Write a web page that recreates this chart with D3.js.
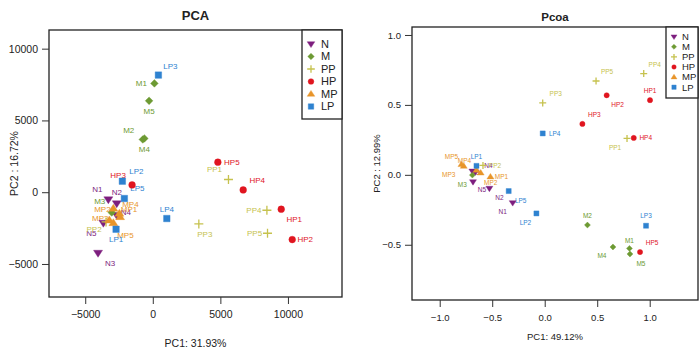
<!DOCTYPE html>
<html>
<head>
<meta charset="utf-8">
<title>PCA / Pcoa</title>
<script src="https://d3js.org/d3.v7.min.js"></script>
<style>
  body { margin: 0; background: #fff; }
  text { font-family: "Liberation Sans", Arial, sans-serif; }
</style>
</head>
<body>
<div id="chart"></div>
<script>
// groups and their legend order
var groups = ["N", "M", "PP", "HP", "MP", "LP"];
var groupColors = ["#7d1e7e", "#6d9a33", "#c6c24e", "#e0151f", "#e8952a", "#2e82d0"];

// PCA scores
var pcaSamples = ["N1","N2","N3","N4","N5","M1","M2","M3","M4","M5","PP1","PP2","PP3","PP4","PP5",
                  "HP1","HP2","HP3","HP4","HP5","MP1","MP2","MP3","MP4","MP5","LP1","LP2","LP3","LP4","LP5"];
var pcaX = [-3289,-2667,-4052,-2667,-3659, 119,-741,-3037,-622,-274, 5600,-3459,3407,8444,8489,
            9503,10318,-1533,6689,4815, -2422,-2918,-3215,-2474,-2918, -2718,-2252,415,1037,-2104];
var pcaY = [-509,-788,-4233,-1604,-2141, 7581,3675,-1416,3745,6367, 886,-2071,-2211,-1255,-2859,
            -1186,-3299,509,160,2092, -1723,-1137,-1953,-1485,-2141, -2580,767,8160,-1834,-439];
var pcaXTicks = [-5000, 0, 5000, 10000];
var pcaYTicks = [-5000, 0, 5000, 10000];

// PCoA scores
var pcoaSamples = pcaSamples;
var pcoaX = [-0.305,-0.527,-0.66,-0.689,-0.683, 0.807,0.407,-0.689,0.650,0.812, 0.784,-0.588,-0.019,0.943,0.489,
             1.003,0.590,0.359,0.848,0.908, -0.517,-0.610,-0.771,-0.650,-0.793, -0.650,-0.079,0.965,-0.019,-0.343];
var pcoaY = [-0.200,-0.097,0.020,0.026,-0.050, -0.526,-0.359,-0.002,-0.516,-0.566, 0.260,0.067,0.514,0.724,0.671,
             0.534,0.569,0.364,0.264,-0.552, -0.014,0.014,0.062,0.034,0.074, 0.064,-0.276,-0.364,0.296,-0.116];
var pcoaXTicks = [-1.0, -0.5, 0.0, 0.5, 1.0];
var pcoaYTicks = [-0.5, 0.0, 0.5, 1.0];

// label nudges (pixels) so text sits beside its marker
var pcaNudge = {
  N1:[-11,-10], N2:[0,-11], N3:[12,10], N4:[9,-3], N5:[-12,10],
  M1:[-13,0], M2:[-14,-9], M3:[-12,-11], M4:[0,11], M5:[0,10],
  PP1:[-14,-10], PP2:[-12,7], PP3:[6,10], PP4:[-13,0], PP5:[-13,0],
  HP1:[13,10], HP2:[13,0], HP3:[-14,-10], HP4:[14,-10], HP5:[14,0],
  MP1:[9,-8], MP2:[-11,1], MP3:[-9,-2], MP4:[11,-9], MP5:[12,12],
  LP1:[0,10], LP2:[14,-10], LP3:[12,-9], LP4:[0,-9], LP5:[13,-10]
};
var pcoaNudge = {
  N1:[-10,9], N2:[10,9], N3:[0,1], N4:[16,-5], N5:[9,8],
  M1:[0,-8], M2:[0,-9], M3:[-10,10], M4:[-11,9], M5:[11,10],
  PP1:[-12,9], PP2:[12,0], PP3:[13,-9], PP4:[11,-9], PP5:[11,-9],
  HP1:[0,-9], HP2:[11,9], HP3:[12,-9], HP4:[12,0], HP5:[12,-9],
  MP1:[11,0], MP2:[10,10], MP3:[-15,9], MP4:[-12,-9], MP5:[-10,-8],
  LP1:[0,-9], LP2:[-11,9], LP3:[0,-10], LP4:[12,0], LP5:[12,10]
};

var W = 700, H = 357;
var svg = d3.select("#chart").append("svg")
    .attr("width", W)
    .attr("height", H);

function groupOf(name) { return name.replace(/[0-9]+$/, ""); }
function colorOf(g) { return groupColors[groups.indexOf(g)]; }

// marker path for a group, r = half size
function markerPath(g, r) {
  if (g === "N") return "M" + (-r) + "," + (-r * 0.6) + "L" + r + "," + (-r * 0.6) + "L0," + (r * 0.95) + "Z";
  if (g === "MP") return "M" + (-r) + "," + (r * 0.6) + "L" + r + "," + (r * 0.6) + "L0," + (-r * 0.95) + "Z";
  if (g === "M") return "M0," + (-r * 0.85) + "L" + (r * 0.85) + ",0L0," + (r * 0.85) + "L" + (-r * 0.85) + ",0Z";
  if (g === "PP") return "M" + (-r) + ",0H" + r + "M0," + (-r) + "V" + r;
  if (g === "LP") { var s = r * 0.72; return "M" + (-s) + "," + (-s) + "H" + s + "V" + s + "H" + (-s) + "Z"; }
  // HP circle
  var c = r * 0.75;
  return "M" + c + ",0A" + c + "," + c + " 0 1,1 " + (-c) + ",0A" + c + "," + c + " 0 1,1 " + c + ",0Z";
}

function drawMarker(sel, g, r) {
  sel.append("path")
    .attr("d", markerPath(g, r))
    .attr("fill", g === "PP" ? "none" : colorOf(g))
    .attr("stroke", colorOf(g))
    .attr("stroke-width", g === "PP" ? 1.3 : 0.4);
}

function drawPanel(o) {
  var x = d3.scaleLinear().domain(o.xDomain).range([o.left, o.right]);
  var y = d3.scaleLinear().domain(o.yDomain).range([o.bottom, o.top]);
  var g = svg.append("g");

  // frame
  g.append("rect")
    .attr("x", o.left).attr("y", o.top)
    .attr("width", o.right - o.left).attr("height", o.bottom - o.top)
    .attr("fill", "none").attr("stroke", "#222").attr("stroke-width", 1.3);

  // axes
  var xAxis = g.append("g")
    .attr("transform", "translate(0," + o.bottom + ")")
    .call(d3.axisBottom(x).tickValues(o.xTicks).tickSize(7).tickPadding(o.tickPad)
      .tickFormat(o.tickFormat));
  var yAxis = g.append("g")
    .attr("transform", "translate(" + o.left + ",0)")
    .call(d3.axisLeft(y).tickValues(o.yTicks).tickSize(7).tickPadding(4)
      .tickFormat(o.tickFormat));
  [xAxis, yAxis].forEach(function (a) {
    a.select(".domain").remove();
    a.selectAll("line").attr("stroke", "#333");
    a.selectAll("text").style("font-size", o.tickSize + "px").attr("fill", "#222")
      .style("font-family", "'Liberation Sans', Arial, sans-serif");
  });

  // title & axis labels
  g.append("text")
    .attr("x", (o.left + o.right) / 2 + o.titleDx).attr("y", o.titleY)
    .attr("text-anchor", "middle")
    .style("font-size", o.titleSize + "px").style("font-weight", "bold")
    .attr("fill", "#222")
    .text(o.title);
  g.append("text")
    .attr("x", (o.left + o.right) / 2 + o.xLabDx).attr("y", o.xLabY)
    .attr("text-anchor", "middle")
    .style("font-size", o.labSize + "px").attr("fill", "#222")
    .text(o.xLab);
  g.append("text")
    .attr("transform", "translate(" + o.yLabX + "," + ((o.top + o.bottom) / 2) + ") rotate(-90)")
    .attr("text-anchor", "middle")
    .style("font-size", o.labSize + "px").attr("fill", "#222")
    .text(o.yLab);

  var pts = o.samples.map(function (s, i) { return { name: s, g: groupOf(s), x: o.xs[i], y: o.ys[i] }; });

  // point labels (drawn first, markers may cover them as in the original)
  g.selectAll(".lbl")
    .data(pts)
    .enter().append("text")
    .attr("class", "lbl")
    .attr("x", function (d) { return x(d.x) + o.nudge[d.name][0]; })
    .attr("y", function (d) { return y(d.y) + o.nudge[d.name][1]; })
    .attr("dy", "0.35em")
    .attr("text-anchor", "middle")
    .style("font-size", o.ptLabSize + "px")
    .attr("fill", function (d) { return colorOf(d.g); })
    .text(function (d) { return d.name; });

  // points
  g.selectAll(".pt")
    .data(pts)
    .enter().append("g")
    .attr("class", "pt")
    .attr("transform", function (d) { return "translate(" + x(d.x) + "," + y(d.y) + ")"; })
    .each(function (d) { drawMarker(d3.select(this), d.g, o.markR); });

  // legend
  var lg = g.append("g");
  lg.append("rect")
    .attr("x", o.legLeft).attr("y", o.top)
    .attr("width", o.right - o.legLeft).attr("height", o.legBottom - o.top)
    .attr("fill", "#fff").attr("stroke", "#222").attr("stroke-width", 1.3);
  groups.forEach(function (gr, i) {
    var yy = o.legFirst + i * o.legStep;
    var m = lg.append("g").attr("transform", "translate(" + (o.legLeft + o.legSymDx) + "," + yy + ")");
    drawMarker(m, gr, o.legR);
    lg.append("text")
      .attr("x", o.legLeft + o.legTextDx).attr("y", yy).attr("dy", "0.35em")
      .style("font-size", o.legSize + "px").attr("fill", "#222")
      .text(gr);
  });
}

drawPanel({
  title: "PCA", titleSize: 13, titleY: 20, titleDx: 0,
  xLab: "PC1: 31.93%", yLab: "PC2 : 16.72%", labSize: 10.5, xLabY: 347, xLabDx: 0, yLabX: 18,
  left: 49, right: 342, top: 30, bottom: 297,
  xDomain: [-7680, 14000], yDomain: [-7300, 11300],
  xTicks: pcaXTicks, yTicks: pcaYTicks, tickFormat: d3.format("d"), tickSize: 10.5, tickPad: 7,
  samples: pcaSamples, xs: pcaX, ys: pcaY, nudge: pcaNudge,
  markR: 4.5, ptLabSize: 8,
  legLeft: 302, legBottom: 119, legFirst: 44, legStep: 12.5, legSymDx: 9, legTextDx: 19, legR: 3.8, legSize: 11
});

drawPanel({
  title: "Pcoa", titleSize: 11.5, titleY: 21, titleDx: 0,
  xLab: "PC1: 49.12%", yLab: "PC2 : 12.99%", labSize: 9.5, xLabY: 340, xLabDx: 0, yLabX: 380,
  left: 412, right: 698, top: 27, bottom: 300,
  xDomain: [-1.264, 1.46], yDomain: [-0.895, 1.057],
  xTicks: pcoaXTicks, yTicks: pcoaYTicks, tickFormat: d3.format(".1f"), tickSize: 9.5, tickPad: 7,
  samples: pcoaSamples, xs: pcoaX, ys: pcoaY, nudge: pcoaNudge,
  markR: 3.5, ptLabSize: 6.5,
  legLeft: 666, legBottom: 98, legFirst: 36.7, legStep: 10.1, legSymDx: 8, legTextDx: 16, legR: 3, legSize: 9.5
});
</script>
</body>
</html>
